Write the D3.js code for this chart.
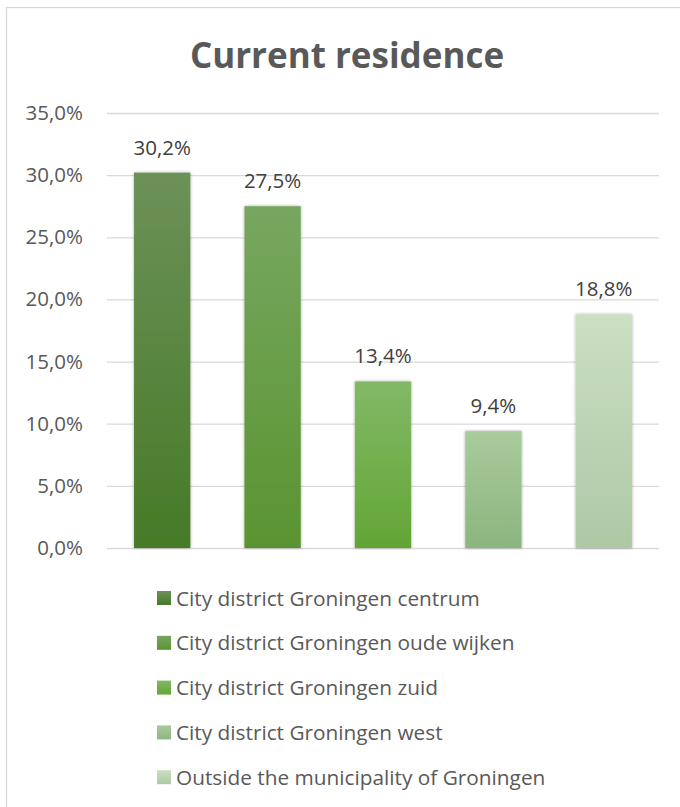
<!DOCTYPE html>
<html>
<head>
<meta charset="utf-8">
<script src="https://cdn.jsdelivr.net/npm/d3@7"></script>
<style>
  html, body { margin: 0; padding: 0; background: #fff; }
  svg { display: block; }
</style>
</head>
<body>
<svg id="chart" width="680" height="807"></svg>
<script>
// Share of respondents by current place of residence
const categories = [
  "City district Groningen centrum",
  "City district Groningen oude wijken",
  "City district Groningen zuid",
  "City district Groningen west",
  "Outside the municipality of Groningen"
];
const values = [30.2, 27.5, 13.4, 9.4, 18.8];
const yTicks = [0, 5, 10, 15, 20, 25, 30, 35];
// top / bottom colours of each bar's gradient
const colorsTop = ["#6c9158", "#77a75f", "#82b967", "#a8cb9b", "#cbdfc3"];
const colorsBottom = ["#477a27", "#5a9431", "#63a535", "#8db57f", "#aec8a4"];

const font = "'Open Sans', 'Noto Sans', sans-serif";
const svg = d3.select("#chart");

// chart frame
svg.append("rect")
  .attr("x", 6.5).attr("y", 7.5)
  .attr("width", 700).attr("height", 830)
  .attr("fill", "#fff").attr("stroke", "#d9d9d9").attr("stroke-width", 1.3);

const defs = svg.append("defs");
categories.forEach((c, i) => {
  const g = defs.append("linearGradient")
    .attr("id", "grad" + i)
    .attr("x1", 0).attr("y1", 0).attr("x2", 0).attr("y2", 1);
  g.append("stop").attr("offset", "0%").attr("stop-color", colorsTop[i]);
  g.append("stop").attr("offset", "100%").attr("stop-color", colorsBottom[i]);
});
const shadow = defs.append("filter").attr("id", "shadow")
  .attr("x", "-30%").attr("y", "-10%").attr("width", "160%").attr("height", "120%");
shadow.append("feDropShadow")
  .attr("dx", 0).attr("dy", 0).attr("stdDeviation", 1.6)
  .attr("flood-color", "#000").attr("flood-opacity", 0.35);

// title
svg.append("text")
  .attr("x", 347).attr("y", 68)
  .attr("text-anchor", "middle")
  .attr("font-family", font).attr("font-weight", "bold")
  .attr("font-size", 35).attr("fill", "#595959")
  .text("Current residence");

const plot = { left: 107, right: 659, top: 113, bottom: 548 };

const x = d3.scaleBand()
  .domain(categories)
  .range([plot.left, plot.right])
  .paddingInner(0.49).paddingOuter(0.245);

const y = d3.scaleLinear()
  .domain([0, 35])
  .range([plot.bottom, plot.top]);

// horizontal gridlines
const yAxis = d3.axisLeft(y)
  .tickValues(yTicks)
  .tickSize(-(plot.right - plot.left))
  .tickPadding(24)
  .tickFormat(d => d3.format(".1f")(d).replace(".", ",") + "%");

const ga = svg.append("g")
  .attr("transform", `translate(${plot.left},0)`)
  .call(yAxis);
ga.select(".domain").remove();
ga.selectAll(".tick line").attr("stroke", "#d9d9d9").attr("stroke-width", 1.3);
ga.selectAll(".tick text")
  .attr("font-family", font).attr("font-size", 20.5)
  .attr("fill", "#595959");

// bars
svg.append("g").selectAll("rect")
  .data(categories)
  .join("rect")
  .attr("x", d => x(d))
  .attr("width", x.bandwidth())
  .attr("y", (d, i) => y(values[i]))
  .attr("height", (d, i) => y(0) - y(values[i]))
  .attr("fill", (d, i) => `url(#grad${i})`)
  .attr("filter", "url(#shadow)");

// value labels
svg.append("g").selectAll("text")
  .data(categories)
  .join("text")
  .attr("x", d => x(d) + x.bandwidth() / 2)
  .attr("y", (d, i) => y(values[i]) - 18)
  .attr("text-anchor", "middle")
  .attr("font-family", font).attr("font-size", 20.5)
  .attr("fill", "#404040")
  .text((d, i) => d3.format(".1f")(values[i]).replace(".", ",") + "%");

// legend
const legend = svg.append("g").attr("transform", "translate(157,591)");
const rows = legend.selectAll("g")
  .data(categories)
  .join("g")
  .attr("transform", (d, i) => `translate(0,${i * 44.8})`);
rows.append("rect")
  .attr("width", 14).attr("height", 14)
  .attr("fill", (d, i) => `url(#grad${i})`);
rows.append("text")
  .attr("x", 19).attr("y", 7)
  .attr("dy", "0.36em")
  .attr("font-family", font).attr("font-size", 20.8)
  .attr("fill", "#595959")
  .text(d => d);
</script>
</body>
</html>
